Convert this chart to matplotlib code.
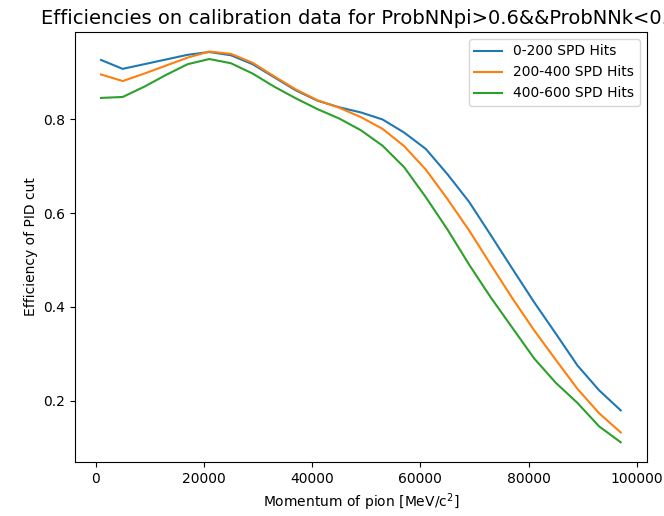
import numpy as np
import matplotlib
matplotlib.use("Agg")
import matplotlib.pyplot as plt

# momentum bin centres [MeV/c^2]
p = [1000, 5000, 9000, 13000, 17000, 21000, 25000, 29000, 33000, 37000, 41000, 45000, 49000,
     53000, 57000, 61000, 65000, 69000, 73000, 77000, 81000, 85000, 89000, 93000, 97000]

eff_0_200 = [0.927, 0.908, 0.918, 0.928, 0.938, 0.944, 0.937, 0.918, 0.890, 0.862, 0.840, 0.826, 0.815,
             0.800, 0.772, 0.737, 0.683, 0.624, 0.553, 0.481, 0.410, 0.343, 0.275, 0.222, 0.179]
eff_200_400 = [0.896, 0.882, 0.898, 0.915, 0.932, 0.945, 0.940, 0.921, 0.892, 0.864, 0.841, 0.825, 0.805,
               0.780, 0.743, 0.693, 0.630, 0.563, 0.490, 0.418, 0.350, 0.287, 0.225, 0.173, 0.132]
eff_400_600 = [0.846, 0.848, 0.870, 0.895, 0.918, 0.929, 0.920, 0.898, 0.870, 0.845, 0.822, 0.802, 0.777,
               0.744, 0.698, 0.634, 0.565, 0.490, 0.420, 0.355, 0.290, 0.238, 0.195, 0.145, 0.111]

labels = ["0-200 SPD Hits", "200-400 SPD Hits", "400-600 SPD Hits"]

fig = plt.figure(figsize=(6.64, 5.16), dpi=100)
ax = fig.add_axes([0.113, 0.105, 0.861, 0.833])

for eff, lab in zip([eff_0_200, eff_200_400, eff_400_600], labels):
    ax.plot(p, eff, label=lab)

# title is wider than the figure in the original, so it gets cut at the right
ax.set_title("Efficiencies on calibration data for ProbNNpi>0.6&&ProbNNk<0.2", fontsize=14)
ax.set_xlabel(r"Momentum of pion [MeV/c$^2$]")
ax.set_ylabel("Efficiency of PID cut")
ax.legend(loc="upper right")

fig.savefig("out.png", dpi=100)
